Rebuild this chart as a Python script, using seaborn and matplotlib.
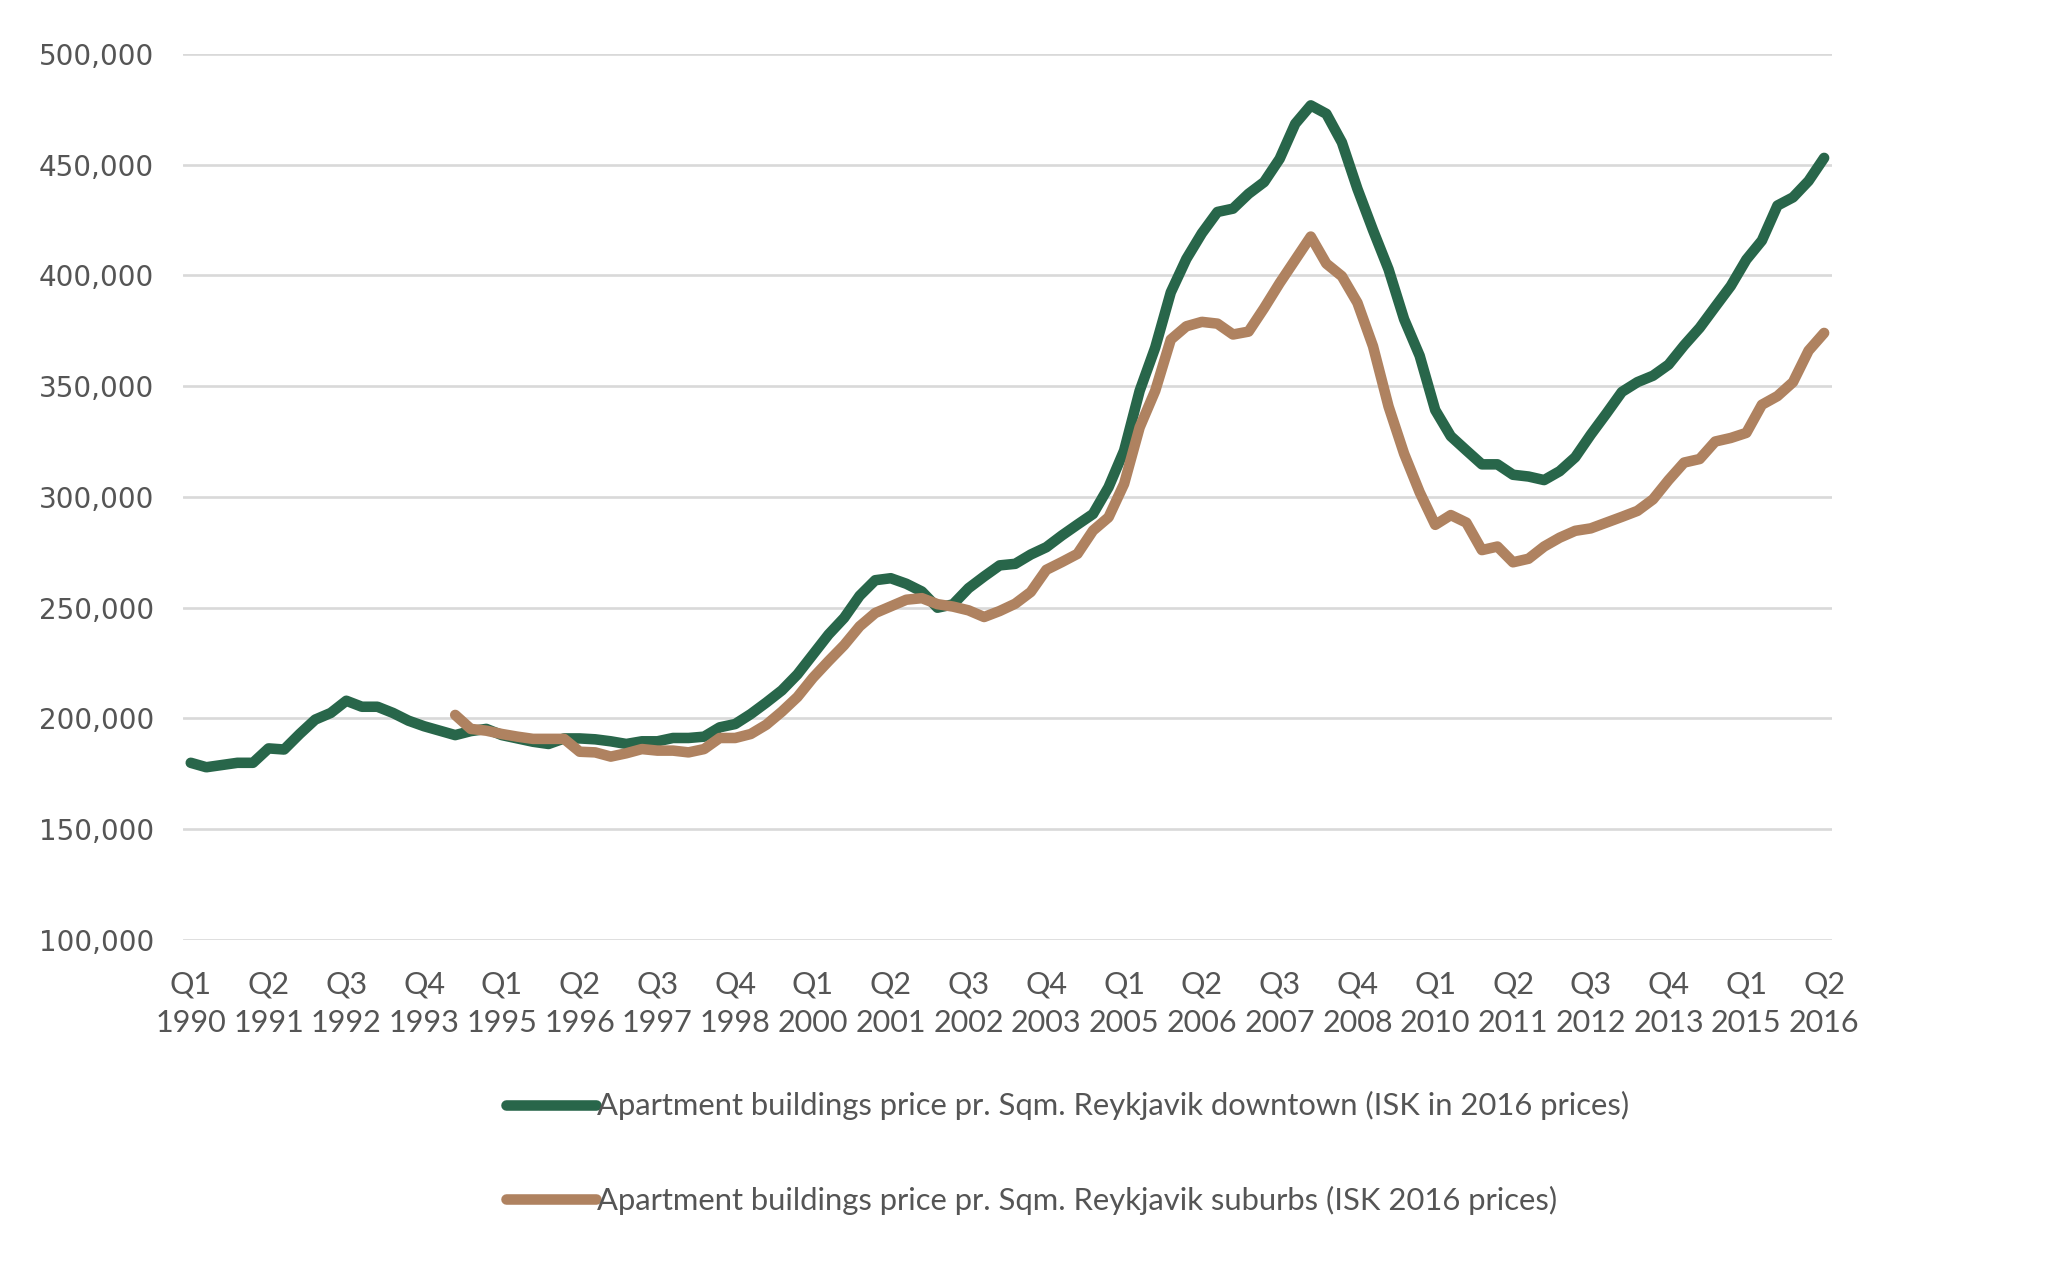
import numpy as np
import pandas as pd
import matplotlib
matplotlib.use("Agg")
import matplotlib.pyplot as plt
import seaborn as sns
from matplotlib import font_manager

# ---------------- data ----------------
quarter_index = list(range(106))  # Q1 1990 .. Q2 2016

downtown = [
    180000, 178000, 179000, 180000, 180000, 186500, 186000, 193000, 199500, 202500,
    208000, 205300, 205300, 202500, 199000, 196500, 194500, 192500, 194300, 195300,
    192500, 191000, 189500, 188500, 191000, 191000, 190600, 189700, 188500, 189700,
    189700, 191200, 191200, 191800, 196000, 197500, 202000, 207200, 212700, 219900,
    228900, 237900, 245400, 255400, 262400, 263300, 260800, 257300, 250000, 251500,
    258800, 264100, 269100, 269800, 274000, 277300, 282600, 287500, 292300, 304400,
    320900, 347900, 367400, 392300, 407400, 419000, 428600, 430100, 436800, 442100,
    452600, 468400, 476700, 472900, 460000, 439000, 420400, 402700, 380200, 363700,
    339200, 327400, 321000, 314700, 314700, 310000, 309200, 307600, 311600, 317900,
    328100, 337600, 347400, 351800, 354700, 359700, 368400, 376300, 385800, 395200,
    407100, 415700, 431500, 435200, 442600, 453000,
]

suburbs = [None] * 17 + [
    201600, 195300, 194500, 193000, 191800, 190800, 190800, 190800, 185000, 184700,
    182800, 184300, 186200, 185500, 185500, 184700, 186200, 191200, 191200, 193000,
    197200, 203100, 209700, 218400, 225900, 233100, 241600, 247600, 250600, 253600,
    254300, 251600, 250500, 248800, 245800, 248500, 251800, 257100, 267100, 270600,
    274300, 284800, 290800, 305900, 331400, 347900, 371000, 377000, 379000, 378200,
    373300, 374600, 385200, 396500, 407000, 417500, 405300, 399600, 387600, 368000,
    340800, 319500, 302100, 287400, 291800, 288400, 276000, 277600, 270500, 272100,
    277600, 281600, 284700, 285800, 288400, 291000, 293700, 298900, 307600, 315500,
    317100, 325000, 326600, 328900, 341600, 345500, 351800, 366000, 374000,
]

tick_positions = list(range(0, 106, 5))
tick_labels = [
    "Q1\n1990", "Q2\n1991", "Q3\n1992", "Q4\n1993", "Q1\n1995", "Q2\n1996",
    "Q3\n1997", "Q4\n1998", "Q1\n2000", "Q2\n2001", "Q3\n2002", "Q4\n2003",
    "Q1\n2005", "Q2\n2006", "Q3\n2007", "Q4\n2008", "Q1\n2010", "Q2\n2011",
    "Q3\n2012", "Q4\n2013", "Q1\n2015", "Q2\n2016",
]
y_ticks = [100000, 150000, 200000, 250000, 300000, 350000, 400000, 450000, 500000]

name_down = "Apartment buildings price pr. Sqm. Reykjavik downtown (ISK in 2016 prices)"
name_sub = "Apartment buildings price pr. Sqm. Reykjavik suburbs (ISK 2016 prices)"

df = pd.DataFrame({
    "q": quarter_index * 2,
    "value": downtown + suburbs,
    "series": [name_down] * 106 + [name_sub] * 106,
}).dropna()

# ---------------- style ----------------
sns.set_theme(style="white")
available = {f.name for f in font_manager.fontManager.ttflist}
narrow = "Liberation Sans Narrow" if "Liberation Sans Narrow" in available else "Lato"
plt.rcParams["font.family"] = [narrow, "DejaVu Sans"]

green = "#28664a"
brown = "#af8260"
text_col = "#555555"

fig = plt.figure(figsize=(20.56, 12.62), dpi=100)
ax = fig.add_axes([0.089, 0.2551, 0.802, 0.7023])

sns.lineplot(
    data=df, x="q", y="value", hue="series",
    palette={name_down: green, name_sub: brown},
    linewidth=7.6, ax=ax, legend=True, sort=True,
)
for ln in ax.get_lines():
    ln.set_solid_capstyle("round")
    ln.set_solid_joinstyle("round")

ax.set_xlim(-0.5, 105.5)
ax.set_ylim(100000, 500000)
ax.set_yticks(y_ticks)
ax.set_yticklabels([f"{v:,}" for v in y_ticks], family="DejaVu Sans",
                   fontsize=20, color=text_col)
ax.set_xticks(tick_positions)
ax.set_xticklabels(tick_labels, fontsize=22, color=text_col, linespacing=1.45)
ax.tick_params(axis="y", length=0, pad=21)
ax.tick_params(axis="x", length=0, pad=22)
ax.set_xlabel("")
ax.set_ylabel("")
ax.grid(axis="y", color="#d9d9d9", linewidth=1.9)
ax.grid(axis="x", visible=False)
ax.set_axisbelow(True)
for s in ax.spines.values():
    s.set_visible(False)

handles, labels = ax.get_legend_handles_labels()
ax.get_legend().remove()
leg = fig.legend(
    handles, labels, loc="center left",
    bbox_to_anchor=(506 / 2056, 1 - 1153 / 1262),
    frameon=False, fontsize=22.3, handlelength=2.9, handletextpad=0.05,
    labelspacing=2.1, borderpad=0, borderaxespad=0,
)
for t in leg.get_texts():
    t.set_color(text_col)
for h in leg.legend_handles:
    h.set_linewidth(7.6)
    h.set_solid_capstyle("round")

fig.savefig("out.png", dpi=100, facecolor="white")
